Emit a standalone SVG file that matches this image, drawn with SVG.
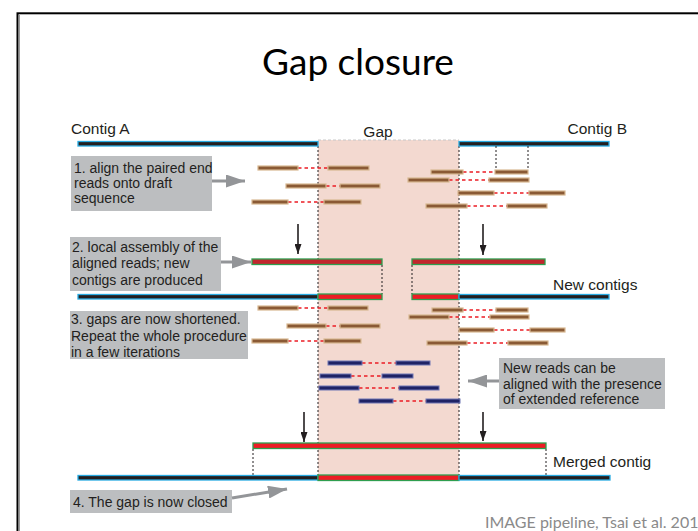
<svg xmlns="http://www.w3.org/2000/svg" width="698" height="531" viewBox="0 0 698 531">
<style>
.t{font-family:"Liberation Sans",Arial,sans-serif;font-size:14px;fill:#231f20}
.lbl{font-family:"Liberation Sans",Arial,sans-serif;font-size:15.5px;fill:#231f20}
.box{fill:#bcbec0}
.contig{fill:#231f20;stroke:#29abe2;stroke-width:1.3}
.red{fill:#ed1c24;stroke:#2e9e4f;stroke-width:1.3}
.dred{fill:#c1272d;stroke:#2e9e4f;stroke-width:1.3}
.rd{fill:#8a5a35;stroke:#d8b892;stroke-width:1.2}
.bl{fill:#1f2365;stroke:#6f76b4;stroke-width:1}
.pair{stroke:#ec1c24;stroke-width:1.3;stroke-dasharray:3.5,3;fill:none}
.vdot{stroke:#231f20;stroke-width:1;stroke-dasharray:2,2;fill:none}
.garr{stroke:#939598;stroke-width:3;fill:none;marker-end:url(#gh)}
.barr{stroke:#231f20;stroke-width:1.6;fill:none;marker-end:url(#bh)}
</style>
<defs>
<marker id="gh" markerUnits="userSpaceOnUse" markerWidth="19" markerHeight="13" refX="19" refY="6.5" orient="auto"><path d="M0,0 L19,6.5 L0,13 Z" fill="#939598"/></marker>
<marker id="bh" markerUnits="userSpaceOnUse" markerWidth="10" markerHeight="7" refX="10" refY="3.5" orient="auto"><path d="M0,0 L10,3.5 L0,7 Z" fill="#231f20"/></marker>
</defs>
<rect x="0" y="0" width="698" height="531" fill="#ffffff"/>
<rect x="17.5" y="13.3" width="700" height="540" fill="none" stroke="#000" stroke-width="2"/>
<line x1="19.5" y1="15" x2="19.5" y2="531" stroke="#9a9a9a" stroke-width="1"/>

<text x="358" y="75" text-anchor="middle" style="font-family:Lato,'Open Sans',sans-serif;font-size:37px;fill:#000">Gap closure</text>

<g id="gap">
<rect x="318" y="140" width="141" height="338" fill="#f3d9d0"/>
<line x1="318" y1="140" x2="459" y2="140" stroke="#c8c8c8" stroke-width="1" stroke-dasharray="3,2"/>
<text class="lbl" x="378" y="137" text-anchor="middle">Gap</text>
<line class="vdot" x1="318" y1="146" x2="318" y2="478"/>
<line class="vdot" x1="459" y1="146" x2="459" y2="478"/>
</g>

<g id="contigA">
<rect class="contig" x="78" y="141.5" width="240" height="4.5"/>
<text class="lbl" x="71" y="134">Contig A</text>
</g>
<g id="contigB">
<rect class="contig" x="459" y="141.5" width="150" height="4.5"/>
<text class="lbl" x="627" y="134" text-anchor="end">Contig B</text>
<line class="vdot" x1="496" y1="146" x2="496" y2="170"/>
<line class="vdot" x1="528" y1="146" x2="528" y2="170"/>
</g>

<g id="box1">
<rect class="box" x="71" y="156" width="141" height="55"/>
<text class="t" x="74" y="173">1. align the paired end</text>
<text class="t" x="74" y="188">reads onto draft</text>
<text class="t" x="74" y="203">sequence</text>
</g>

<g id="reads1">
<line class="pair" x1="298" y1="168" x2="328" y2="168"/>
<line class="pair" x1="326" y1="186" x2="340" y2="186"/>
<line class="pair" x1="288" y1="202" x2="324" y2="202"/>
<line class="pair" x1="463" y1="172" x2="495" y2="172"/>
<line class="pair" x1="449" y1="180" x2="489" y2="180"/>
<line class="pair" x1="494" y1="193" x2="529" y2="193"/>
<line class="pair" x1="467" y1="206" x2="507" y2="206"/>
<rect class="rd" x="258" y="166" width="40" height="4"/>
<rect class="rd" x="328" y="166" width="41" height="4"/>
<rect class="rd" x="286" y="184" width="40" height="4"/>
<rect class="rd" x="340" y="184" width="40" height="4"/>
<rect class="rd" x="252" y="200" width="36" height="4"/>
<rect class="rd" x="324" y="200" width="37" height="4"/>
<rect class="rd" x="431" y="170" width="32" height="4"/>
<rect class="rd" x="495" y="170" width="33" height="4"/>
<rect class="rd" x="408" y="178" width="41" height="4"/>
<rect class="rd" x="489" y="178" width="40" height="4"/>
<rect class="rd" x="458" y="191" width="36" height="4"/>
<rect class="rd" x="529" y="191" width="36" height="4"/>
<rect class="rd" x="426" y="204" width="41" height="4"/>
<rect class="rd" x="507" y="204" width="40" height="4"/>
</g>

<g id="box2">
<rect class="box" x="70" y="237" width="151" height="54"/>
<text class="t" x="72" y="252">2. local assembly of the</text>
<text class="t" x="72" y="268">aligned reads; new</text>
<text class="t" x="72" y="285">contigs are produced</text>
</g>

<g id="newContigs">
<rect class="dred" x="252" y="259" width="130" height="5.5"/>
<rect class="dred" x="412" y="259" width="133" height="5.5"/>
<line class="vdot" x1="382" y1="265" x2="382" y2="294"/>
<line class="vdot" x1="412" y1="265" x2="412" y2="294"/>
</g>

<g id="row2">
<rect class="contig" x="78" y="294.5" width="240" height="4.5"/>
<rect class="red" x="318" y="294" width="64" height="5.5"/>
<rect class="red" x="412" y="294" width="47" height="5.5"/>
<rect class="contig" x="459" y="294.5" width="150" height="4.5"/>
<text class="lbl" x="553" y="290">New contigs</text>
</g>

<g id="box3">
<rect class="box" x="70" y="311" width="178" height="48"/>
<text class="t" x="71" y="324">3. gaps are now shortened.</text>
<text class="t" x="71" y="341">Repeat the whole procedure</text>
<text class="t" x="71" y="357">in a few iterations</text>
</g>

<g id="reads3">
<line class="pair" x1="298" y1="308" x2="328" y2="308"/>
<line class="pair" x1="326" y1="326" x2="340" y2="326"/>
<line class="pair" x1="288" y1="341" x2="324" y2="341"/>
<line class="pair" x1="463" y1="310" x2="496" y2="310"/>
<line class="pair" x1="449" y1="317" x2="490" y2="317"/>
<line class="pair" x1="494" y1="330" x2="530" y2="330"/>
<line class="pair" x1="467" y1="343" x2="508" y2="343"/>
<rect class="rd" x="258" y="306" width="40" height="4"/>
<rect class="rd" x="328" y="306" width="40" height="4"/>
<rect class="rd" x="287" y="324" width="39" height="4"/>
<rect class="rd" x="340" y="324" width="40" height="4"/>
<rect class="rd" x="252" y="339" width="36" height="4"/>
<rect class="rd" x="324" y="339" width="37" height="4"/>
<rect class="rd" x="432" y="308" width="31" height="4"/>
<rect class="rd" x="496" y="308" width="32" height="4"/>
<rect class="rd" x="409" y="315" width="40" height="4"/>
<rect class="rd" x="490" y="315" width="39" height="4"/>
<rect class="rd" x="459" y="328" width="35" height="4"/>
<rect class="rd" x="530" y="328" width="35" height="4"/>
<rect class="rd" x="427" y="341" width="40" height="4"/>
<rect class="rd" x="508" y="341" width="40" height="4"/>
</g>

<g id="newReads">
<line class="pair" x1="362" y1="363" x2="396" y2="363"/>
<line class="pair" x1="351" y1="376" x2="382" y2="376"/>
<line class="pair" x1="359" y1="388" x2="399" y2="388"/>
<line class="pair" x1="393" y1="401" x2="426" y2="401"/>
<rect class="bl" x="328" y="361" width="34" height="4"/>
<rect class="bl" x="396" y="361" width="34" height="4"/>
<rect class="bl" x="320" y="374" width="31" height="4"/>
<rect class="bl" x="382" y="374" width="31" height="4"/>
<rect class="bl" x="319" y="386" width="40" height="4"/>
<rect class="bl" x="399" y="386" width="40" height="4"/>
<rect class="bl" x="359" y="399" width="34" height="4"/>
<rect class="bl" x="426" y="399" width="34" height="4"/>
</g>

<g id="box5">
<rect class="box" x="499" y="358" width="166" height="51"/>
<text class="t" x="503" y="373">New reads can be</text>
<text class="t" x="503" y="389">aligned with the presence</text>
<text class="t" x="503" y="404">of extended reference</text>
</g>

<g id="merged">
<rect class="red" x="253" y="443" width="293" height="5.5"/>
<line class="vdot" x1="253" y1="449" x2="253" y2="476"/>
<line class="vdot" x1="546" y1="449" x2="546" y2="476"/>
<text class="lbl" x="553" y="467">Merged contig</text>
</g>

<g id="row4">
<rect class="contig" x="78" y="475.5" width="240" height="4.5"/>
<rect class="red" x="318" y="475" width="141" height="5.5"/>
<rect class="contig" x="459" y="475.5" width="151" height="4.5"/>
</g>

<g id="box4">
<rect class="box" x="70" y="490" width="162" height="23"/>
<text class="t" x="73" y="507">4. The gap is now closed</text>
</g>

<g id="connectors">
<line class="garr" x1="212" y1="181" x2="245" y2="181"/>
<line class="garr" x1="221" y1="262" x2="251" y2="262"/>
<line class="garr" x1="499" y1="381" x2="468" y2="381"/>
<line class="garr" x1="232" y1="498" x2="287" y2="489"/>
<line class="barr" x1="298" y1="224" x2="298" y2="254"/>
<line class="barr" x1="483" y1="224" x2="483" y2="255"/>
<line class="barr" x1="304" y1="412" x2="304" y2="442"/>
<line class="barr" x1="483" y1="412" x2="483" y2="441"/>
</g>

<text x="485" y="528" style="font-family:Lato,'Open Sans',sans-serif;font-size:16px;fill:#8a8a8a">IMAGE pipeline, Tsai et al. 201</text>
</svg>
